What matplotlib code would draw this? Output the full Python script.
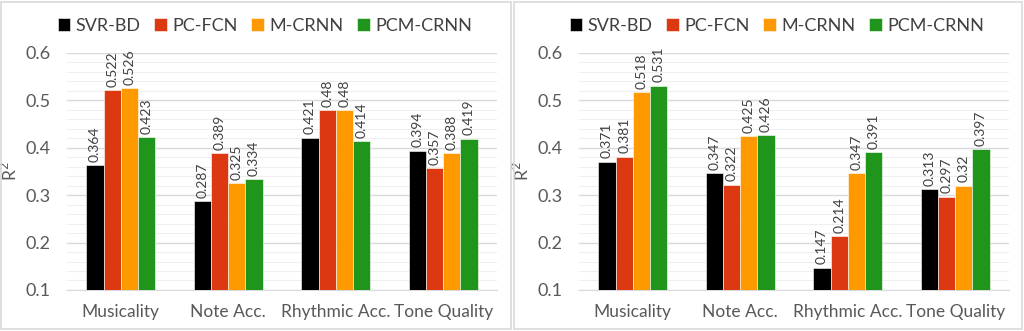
import numpy as np
import matplotlib.pyplot as plt
from matplotlib.patches import Rectangle
from matplotlib.ticker import MultipleLocator

plt.rcParams['font.family'] = ['Lato', 'DejaVu Sans']

categories = ['Musicality', 'Note Acc.', 'Rhythmic Acc.', 'Tone Quality']
models = ['SVR-BD', 'PC-FCN', 'M-CRNN', 'PCM-CRNN']
colors = ['#000000', '#DC3912', '#FF9900', '#1F961B']

left_scores = [
    [0.364, 0.287, 0.421, 0.394],
    [0.522, 0.389, 0.48, 0.357],
    [0.526, 0.325, 0.48, 0.388],
    [0.423, 0.334, 0.414, 0.419],
]
left_labels = [
    ['0.364', '0.287', '0.421', '0.394'],
    ['0.522', '0.389', '0.48', '0.357'],
    ['0.526', '0.325', '0.48', '0.388'],
    ['0.423', '0.334', '0.414', '0.419'],
]
right_scores = [
    [0.371, 0.347, 0.147, 0.313],
    [0.381, 0.322, 0.214, 0.297],
    [0.518, 0.425, 0.347, 0.32],
    [0.531, 0.426, 0.391, 0.397],
]
right_labels = [
    ['0.371', '0.347', '0.147', '0.313'],
    ['0.381', '0.322', '0.214', '0.297'],
    ['0.518', '0.425', '0.347', '0.32'],
    ['0.531', '0.426', '0.391', '0.397'],
]

fig = plt.figure(figsize=(10.24, 3.31), dpi=100)

# panel frames
for x0, w in [(0.001, 0.498), (0.502, 0.496)]:
    fig.patches.append(Rectangle((x0, 0.005), w, 0.99, transform=fig.transFigure,
                                 fill=False, edgecolor='#D9D9D9', linewidth=1.2))


def draw_panel(ax, scores, labels):
    x = np.arange(len(categories))
    w = 0.16
    for i, (m, c) in enumerate(zip(models, colors)):
        pos = x + (i - 1.5) * w
        ax.bar(pos, np.array(scores[i]) - 0.1, w, bottom=0.1, color=c,
               edgecolor='white', linewidth=0.4, label=m, zorder=3)
        for p, v, t in zip(pos, scores[i], labels[i]):
            ax.text(p, v + 0.007, t, rotation=90, ha='center', va='bottom',
                    fontsize=10, color='#404040', zorder=2, clip_on=False)
    ax.set_xlim(-0.5, 3.5)
    ax.set_ylim(0.1, 0.6)
    ax.yaxis.set_minor_locator(MultipleLocator(0.02))
    ax.set_yticks([0.1, 0.2, 0.3, 0.4, 0.5, 0.6])
    ax.set_yticklabels(['0.1', '0.2', '0.3', '0.4', '0.5', '0.6'])
    ax.grid(axis='y', which='major', color='#D9D9D9', linewidth=1.0, zorder=0)
    ax.grid(axis='y', which='minor', color='#EFEFEF', linewidth=0.8, zorder=0)
    ax.set_axisbelow(True)
    for s in ['top', 'right', 'left']:
        ax.spines[s].set_visible(False)
    ax.spines['bottom'].set_color('#D9D9D9')
    ax.tick_params(axis='both', which='both', length=0, labelsize=13,
                   labelcolor='#595959')
    ax.tick_params(axis='y', pad=12)
    ax.tick_params(axis='x', pad=10)
    ax.set_xticks(x)
    ax.set_xticklabels(categories, fontsize=12.5)
    ax.set_ylabel('R$^2$', fontsize=12.5, color='#595959', labelpad=4)
    ax.legend(loc='center', bbox_to_anchor=(0.46, 1.115), ncol=4,
              frameon=False, fontsize=13, handlelength=0.7, handleheight=0.7,
              handletextpad=0.3, columnspacing=0.75, borderpad=0.2,
              labelcolor='#404040')


ax1 = fig.add_axes([0.0654, 0.124, 0.42, 0.716])
draw_panel(ax1, left_scores, left_labels)
ax2 = fig.add_axes([0.5654, 0.124, 0.42, 0.716])
draw_panel(ax2, right_scores, right_labels)

fig.savefig('out.png', dpi=100)
